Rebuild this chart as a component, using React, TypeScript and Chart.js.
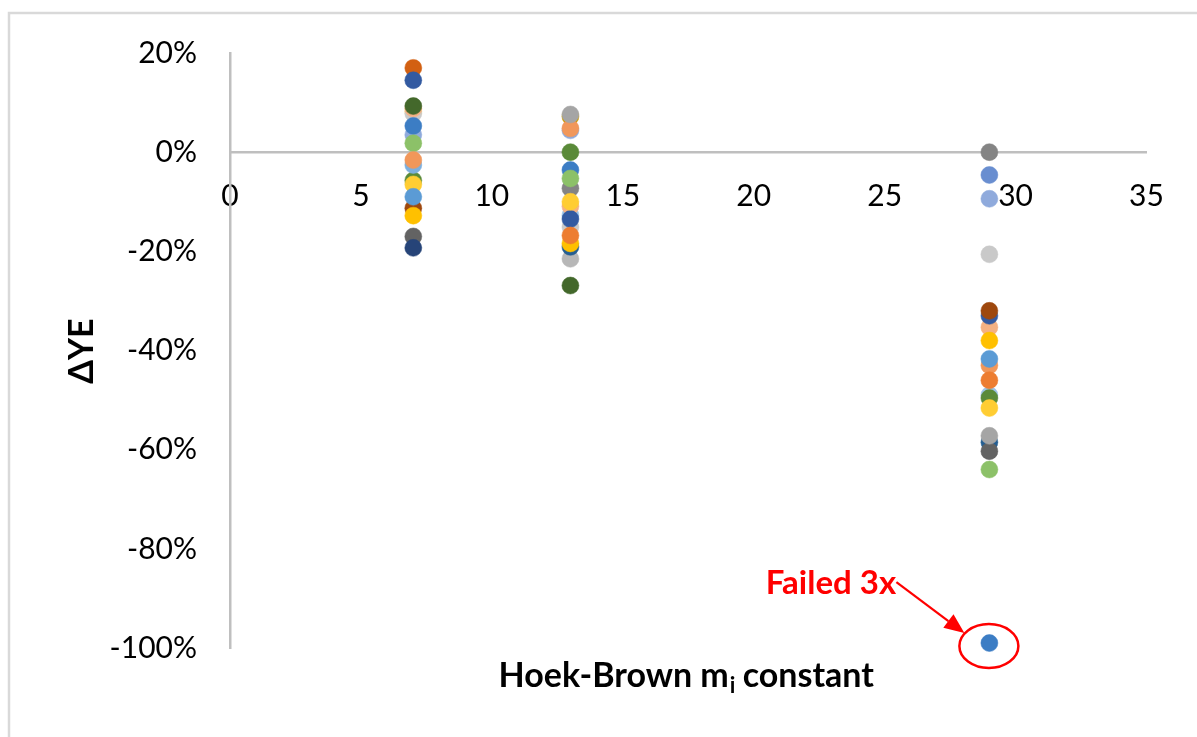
import React, { useEffect, useRef } from 'react';
import { Chart, registerables } from 'chart.js';

Chart.register(...registerables);

// Hoek-Brown m_i constants (x positions of the three rock groups)
const mValues = [7, 13, 29];

// Excel-style series colours
const seriesColors = [
  '#ED7D31', '#A5A5A5', '#FFC000', '#5B9BD5', '#264478', '#9E480E',
  '#636363', '#255E91', '#43682B', '#698ED0', '#F1975A', '#B7B7B7',
  '#FFCD33', '#7CAFDD', '#8CC168', '#335AA1', '#D26012', '#848484',
  '#CC9A00', '#3C7DC4', '#5A8A39', '#8FAADC', '#F4B183', '#C9C9C9',
  '#FFD966', '#9DC3E6',
];

// ΔYE (%) per series at m = 7, 13, 29 (null = no point)
const seriesValues: (number | null)[][] = [
  [null, -16.8, -46],
  [null, 7.6, -57.2],
  [-12.8, -18.4, -38],
  [-9, null, -41.7],
  [-19.3, null, null],
  [-11.3, null, -32],
  [-17, null, -60.3],
  [null, -19.1, -58.5],
  [9.3, -26.9, null],
  [null, null, -4.6],
  [-1.6, 4.8, -43],
  [null, -21.5, null],
  [-6.5, -10, -51.6],
  [-2.6, null, null],
  [1.8, -5.3, -64],
  [14.5, -13.5, -33],
  [17, null, null],
  [null, -7.3, 0],
  [null, 7.2, null],
  [5.3, -3.6, -99],
  [-5.7, 0, -49.6],
  [3.5, 4.4, -9.4],
  [8.8, -10.9, -35.3],
  [7.8, -15.1, -20.6],
  [8.2, null, null],
  [null, -12.7, -49],
];

const xTicksRange = { min: 0, max: 35, step: 5 };
const yTicksRange = { min: -100, max: 20, step: 20 };
const yTitle = 'ΔYE';
const xTitleMain = 'Hoek-Brown m';
const xTitleSub = 'i';
const xTitleEnd = ' constant';
const annotationLabel = 'Failed 3x';

const FONT = 'Lato';

const decorPlugin = {
  id: 'decor',
  beforeDraw(chart: any) {
    const ctx = chart.ctx;
    ctx.save();
    ctx.fillStyle = '#ffffff';
    ctx.fillRect(0, 0, chart.width, chart.height);
    ctx.strokeStyle = '#D9D9D9';
    ctx.lineWidth = 2.5;
    ctx.beginPath();
    ctx.moveTo(9, chart.height + 10);
    ctx.lineTo(9, 13);
    ctx.lineTo(chart.width + 10, 13);
    ctx.stroke();
    ctx.restore();
  },
  afterDraw(chart: any) {
    const ctx = chart.ctx;
    const xs = chart.scales.x;
    const ys = chart.scales.y;
    ctx.save();
    // Y title
    ctx.fillStyle = '#000000';
    ctx.font = `bold 34px ${FONT}`;
    ctx.translate(93, (ys.top + ys.bottom) / 2 + 0.5);
    ctx.rotate(-Math.PI / 2);
    ctx.textAlign = 'center';
    ctx.textBaseline = 'alphabetic';
    ctx.fillText(yTitle, 0, 0);
    ctx.restore();

    // X title with subscript
    ctx.save();
    ctx.fillStyle = '#000000';
    ctx.textBaseline = 'alphabetic';
    ctx.textAlign = 'left';
    const mainFont = `bold 34px ${FONT}`;
    const subFont = `bold 22px ${FONT}`;
    ctx.font = mainFont;
    const w1 = ctx.measureText(xTitleMain).width;
    const w3 = ctx.measureText(xTitleEnd).width;
    ctx.font = subFont;
    const w2 = ctx.measureText(xTitleSub).width;
    const total = w1 + w2 + w3;
    const cx = (xs.left + xs.right) / 2 - 2;
    const base = 687;
    const x0 = cx - total / 2;
    ctx.font = mainFont;
    ctx.fillText(xTitleMain, x0, base);
    ctx.font = subFont;
    ctx.fillText(xTitleSub, x0 + w1 + 1, base + 6);
    ctx.font = mainFont;
    ctx.fillText(xTitleEnd, x0 + w1 + w2, base);
    ctx.restore();

    // annotation: lowest point
    let minPt: { x: number; y: number } | null = null;
    seriesValues.forEach((vals) =>
      vals.forEach((v, j) => {
        if (v !== null && (minPt === null || v < (minPt as any).y)) minPt = { x: mValues[j], y: v };
      })
    );
    if (!minPt) return;
    const px = xs.getPixelForValue((minPt as any).x);
    const py = ys.getPixelForValue((minPt as any).y);
    ctx.save();
    ctx.strokeStyle = '#FF0000';
    ctx.fillStyle = '#FF0000';
    ctx.lineWidth = 2.5;
    ctx.beginPath();
    ctx.ellipse(px - 0.5, py + 3, 29.5, 22, 0, 0, Math.PI * 2);
    ctx.stroke();
    const sx = px - 93, sy = py - 61, tx = px - 25, ty = py - 10;
    const ang = Math.atan2(ty - sy, tx - sx);
    const hl = 20, hw = 8.5;
    const bx = tx - hl * Math.cos(ang), by = ty - hl * Math.sin(ang);
    ctx.lineWidth = 2.2;
    ctx.beginPath();
    ctx.moveTo(sx, sy);
    ctx.lineTo(bx, by);
    ctx.stroke();
    ctx.beginPath();
    ctx.moveTo(tx, ty);
    ctx.lineTo(bx + hw * Math.sin(ang), by - hw * Math.cos(ang));
    ctx.lineTo(bx - hw * Math.sin(ang), by + hw * Math.cos(ang));
    ctx.closePath();
    ctx.fill();
    ctx.font = `bold 33px ${FONT}`;
    ctx.textAlign = 'center';
    ctx.textBaseline = 'alphabetic';
    ctx.fillText(annotationLabel, px - 158.5, py - 49.5);
    ctx.restore();
  },
};

export default function App() {
  const ref = useRef<HTMLCanvasElement>(null);
  useEffect(() => {
    if (!ref.current) return;
    const datasets = seriesValues.map((vals, i) => ({
      label: `Series ${i + 1}`,
      data: vals
        .map((v, j) => (v === null ? null : { x: mValues[j], y: v }))
        .filter((p) => p !== null) as { x: number; y: number }[],
      backgroundColor: seriesColors[i],
      borderColor: seriesColors[i],
      pointRadius: 8.5,
      pointBorderWidth: 0.5,
      pointHoverRadius: 8.5,
      showLine: false,
      clip: false as any,
    }));
    const chart = new Chart(ref.current, {
      type: 'scatter',
      data: { datasets },
      plugins: [decorPlugin],
      options: {
        animation: false,
        responsive: false,
        devicePixelRatio: 1,
        layout: { padding: { left: 100, right: 50.5, top: 53, bottom: 89 } },
        plugins: { legend: { display: false }, tooltip: { enabled: false } },
        scales: {
          x: {
            type: 'linear',
            position: { y: 0 } as any,
            min: xTicksRange.min,
            max: xTicksRange.max,
            afterFit: (s: any) => { s.height = 0; },
            grid: { display: false, drawTicks: false },
            border: { display: true, color: '#BFBFBF', width: 2.5 },
            ticks: {
              stepSize: xTicksRange.step,
              padding: 26,
              color: '#000000',
              font: { family: FONT, size: 30 },
              maxRotation: 0,
            },
          },
          y: {
            type: 'linear',
            position: 'left',
            min: yTicksRange.min,
            max: yTicksRange.max,
            afterFit: (s: any) => { s.width = 130; },
            grid: { display: false, drawTicks: false },
            border: { display: true, color: '#BFBFBF', width: 2.5 },
            ticks: {
              stepSize: yTicksRange.step,
              padding: 33,
              color: '#000000',
              font: { family: FONT, size: 30 },
              callback: (v: any) => `${v}%`,
            },
          },
        },
      },
    });
    return () => chart.destroy();
  }, []);
  return (
    <div style={{ position: 'fixed', left: 0, top: 0, width: 1197, height: 737, background: '#fff' }}>
      <canvas ref={ref} width={1197} height={737} style={{ display: 'block' }} />
    </div>
  );
}
